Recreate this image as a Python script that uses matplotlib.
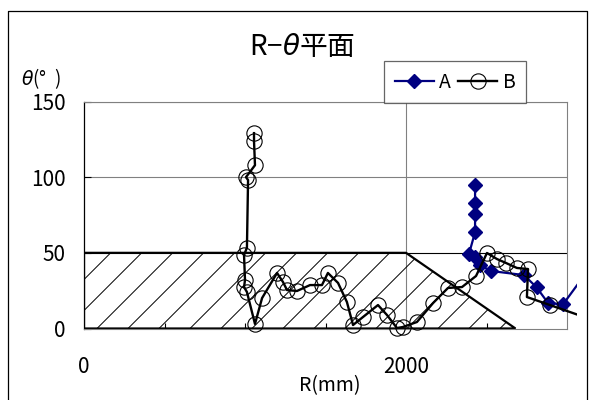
import matplotlib
matplotlib.use("Agg")
import matplotlib.pyplot as plt
import numpy as np
from matplotlib.patches import Polygon, Rectangle
from matplotlib.collections import LineCollection
from matplotlib.lines import Line2D

plt.rcParams['font.family'] = ['Noto Sans CJK JP', 'DejaVu Sans']
plt.rcParams['mathtext.fontset'] = 'dejavusans'

# ---- data ----
a_r = [2429, 2429, 2429, 2429, 2391, 2429, 2460, 2528, 2733, 2811, 2884, 2977, 3150]
a_theta = [94.8, 82.9, 75.6, 63.7, 49.2, 47.2, 41.9, 38.0, 35.3, 27.2, 16.6, 16.2, 41.3]

b_r = [1056, 1056, 1062, 1006, 1019, 1012, 994, 1000, 994, 1012, 1062, 1106, 1199,
       1236, 1261, 1323, 1404, 1478, 1515, 1578, 1633, 1671, 1733, 1826, 1882,
       1944, 1981, 2068, 2168, 2261, 2348, 2435, 2503, 2565, 2621, 2689, 2758,
       2751, 2894, 3150]
b_theta = [129.1, 123.8, 107.9, 100.0, 98.1, 53.4, 48.5, 32.0, 27.4, 24.1, 3.0, 20.1,
           36.7, 30.7, 25.4, 24.8, 28.7, 28.7, 36.7, 30.1, 17.5, 2.3, 7.6, 15.5,
           8.9, 0.3, 1.0, 4.3, 16.8, 26.8, 27.4, 34.7, 49.9, 45.9, 43.3, 40.0,
           39.3, 20.8, 15.5, 6.0]

zone_r = [0, 0, 2000, 2680]
zone_theta = [0, 50, 50, 0]

x_ticks = [0, 2000]
y_ticks = [0, 50, 100, 150]

# ---- figure ----
W, H = 593, 400
fig = plt.figure(figsize=(W / 100, H / 100), dpi=100)
L, R, B, T = 84, 567, 328.5, 101.5
ax = fig.add_axes([L / W, 1 - B / H, (R - L) / W, (B - T) / H])
ax.set_xlim(0, 3000)
ax.set_ylim(0, 150)

# outer chart frame
fig.add_artist(Line2D([8 / W, 8 / W, 587 / W, 587 / W], [0, 1 - 11 / H, 1 - 11 / H, 0],
                      transform=fig.transFigure, color='black', lw=0.9))

# grid
for yv, c in [(50, 'black'), (100, '#808080'), (150, '#808080')]:
    ax.axhline(yv, color=c, lw=0.8, zorder=1)
ax.axvline(2000, color='#808080', lw=0.8, zorder=1)
for s in ['top', 'right', 'bottom']:
    ax.spines[s].set_color('#808080')
    ax.spines[s].set_linewidth(0.8)
ax.spines['left'].set_color('black')
ax.spines['left'].set_linewidth(0.9)

# hatched zone
poly = Polygon(np.column_stack([zone_r, zone_theta]), closed=True, facecolor='none',
               edgecolor='black', lw=1.6, zorder=2)
ax.add_patch(poly)
wpx, hpx = R - L, B - T
dx = hpx / wpx
step = 31 / wpx
segs = [[(s, 0), (s + dx, 1)] for s in np.arange(-1.0, 1.2, step)]
lc = LineCollection(segs, colors='black', linewidths=0.7, transform=ax.transAxes, zorder=2)
ax.add_collection(lc)
lc.set_clip_path(poly)

clip = Rectangle((-0.05, -0.1), 1.0207 + 0.05, 1.2, transform=ax.transAxes)
la, = ax.plot(a_r, a_theta, color='#000080', lw=1.6, marker='D', markersize=7,
              markerfacecolor='#000080', markeredgecolor='#000080', zorder=3, label='A')
lb, = ax.plot(b_r, b_theta, color='black', lw=1.7, marker='o', markersize=11,
              markerfacecolor='none', markeredgecolor='black', markeredgewidth=0.8,
              zorder=4, label='B')
for ln in (la, lb):
    ln.set_clip_path(clip)

# ticks
ax.set_xticks(x_ticks)
ax.set_xticklabels([str(v) for v in x_ticks], fontsize=15)
ax.set_xticks(np.arange(500, 3000, 500), minor=True)
ax.set_yticks(y_ticks)
ax.set_yticklabels([str(v) for v in y_ticks], fontsize=15)
ax.tick_params(axis='x', which='major', length=0, pad=20)
ax.tick_params(axis='x', which='minor', direction='in', length=4, color='black', width=0.8)
ax.tick_params(axis='y', which='major', direction='in', length=5, color='black', width=0.8, pad=13.5)

# labels
fig.text(302 / W, 1 - 47 / H, r"R−$\theta$平面", ha='center', va='center', fontsize=20)
fig.text(21 / W, 1 - 79 / H, r"$\theta$(°  )", ha='left', va='center', fontsize=13.5)
fig.text(330 / W, 1 - 386 / H, "R(mm)", ha='center', va='center', fontsize=14)

leg = fig.legend(handles=[la, lb], loc='upper left', bbox_to_anchor=(384 / W, 1 - 61 / H),
                 ncol=2, fontsize=14, frameon=True, fancybox=False, borderpad=0.55,
                 handlelength=2.0, handletextpad=0.3, columnspacing=0.35,
                 borderaxespad=0)
leg.get_frame().set_edgecolor('#404040')
leg.get_frame().set_linewidth(0.9)

fig.savefig('out.png', dpi=100)
